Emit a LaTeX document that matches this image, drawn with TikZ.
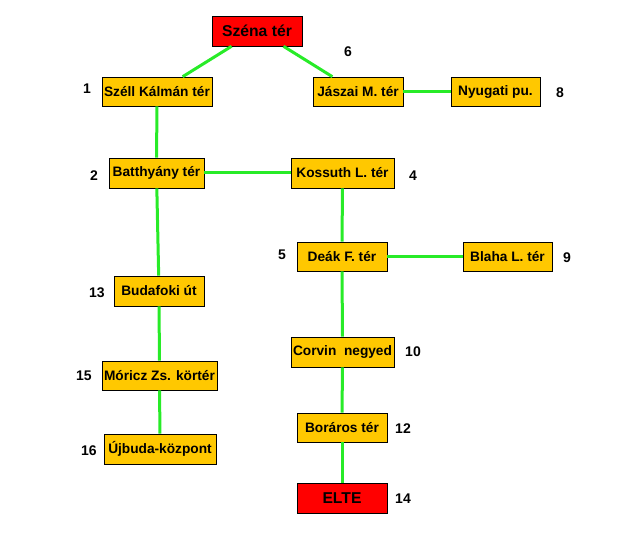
\documentclass[tikz,border=0pt]{standalone}
\usepackage{fontspec}
\setmainfont{Liberation Sans}
\definecolor{boxorange}{RGB}{255,200,0}
\definecolor{boxred}{RGB}{255,0,0}
\definecolor{linegreen}{RGB}{40,235,40}
\tikzset{
  stationbox/.style={draw=black, line width=0.6bp, fill=boxorange, inner sep=0pt,
    minimum height=29bp, font=\fontsize{13.7bp}{15bp}\selectfont\bfseries, text=black},
  endbox/.style={stationbox, fill=boxred, minimum height=30bp,
    font=\fontsize{15.7bp}{17bp}\selectfont\bfseries},
  numlabel/.style={inner sep=0pt, font=\fontsize{14bp}{16bp}\selectfont\bfseries, text=black},
  link/.style={draw=linegreen, line width=3bp}
}
\begin{document}
\begin{tikzpicture}[x=1bp,y=-1bp]
\useasboundingbox (0,0) rectangle (618,533);
% nodes
\node[endbox, minimum width=90bp] (szena) at (257,31) {Széna tér};
\node[stationbox, minimum width=110bp] (szell) at (157,91.5) {Széll Kálmán tér};
\node[stationbox, minimum width=90bp] (jaszai) at (358,91.5) {Jászai M. tér};
\node[stationbox, minimum width=89bp] (nyugati) at (495.5,91.5) {Nyugati pu.};
\node[stationbox, minimum width=95bp, minimum height=30bp] (batthyany) at (156.5,173) {Batthyány tér};
\node[stationbox, minimum width=103bp, minimum height=30bp] (kossuth) at (342.5,173) {Kossuth L. tér};
\node[stationbox, minimum width=90bp] (deak) at (342,256.5) {Deák F. tér};
\node[stationbox, minimum width=89bp] (blaha) at (507.5,256.5) {Blaha L. tér};
\node[stationbox, minimum width=103bp, minimum height=30bp] (corvin) at (342.5,352) {Corvin\ \ negyed};
\node[stationbox, minimum width=90bp, minimum height=30bp] (budafoki) at (159,291) {Budafoki út};
\node[stationbox, minimum width=115bp] (moricz) at (159.5,375.5) {Móricz Zs. körtér};
\node[stationbox, minimum width=112bp, minimum height=30bp] (ujbuda) at (160,449) {Újbuda-központ};
\node[stationbox, minimum width=90bp] (boraros) at (342,427.5) {Boráros tér};
\node[endbox, minimum width=90bp] (elte) at (342,498) {ELTE};
% numbers
\node[numlabel] (n1) at (87,89) {1};
\node[numlabel] (n2) at (94,176) {2};
\node[numlabel] (n6) at (348,52) {6};
\node[numlabel] (n8) at (560,93) {8};
\node[numlabel] (n4) at (413,176) {4};
\node[numlabel] (n5) at (282,255) {5};
\node[numlabel] (n9) at (567,258) {9};
\node[numlabel] (n10) at (413,352) {10};
\node[numlabel] (n13) at (97,293) {13};
\node[numlabel] (n15) at (84,376) {15};
\node[numlabel] (n16) at (89,451) {16};
\node[numlabel] (n12) at (403,429) {12};
\node[numlabel] (n14) at (403,499) {14};
% connectors
\draw[link] (szena.211) -- (szell.30);
\draw[link] (szena.330) -- (jaszai.150);
\draw[link] (jaszai) -- (nyugati);
\draw[link] (szell) -- (batthyany);
\draw[link] (batthyany) -- (kossuth);
\draw[link] (batthyany) -- (budafoki);
\draw[link] (kossuth) -- (deak);
\draw[link] (deak) -- (blaha);
\draw[link] (deak) -- (corvin);
\draw[link] (corvin) -- (boraros);
\draw[link] (boraros) -- (elte);
\draw[link] (budafoki) -- (moricz);
\draw[link] (moricz) -- (ujbuda);
\end{tikzpicture}
\end{document}
